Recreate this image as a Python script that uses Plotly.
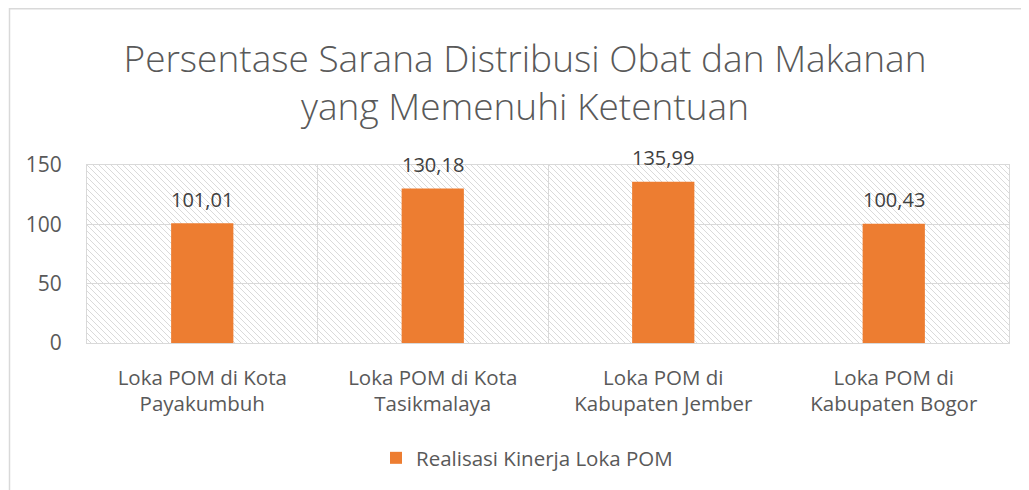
import plotly.graph_objects as go
import base64

categories = ["Loka POM di Kota<br>Payakumbuh", "Loka POM di Kota<br>Tasikmalaya",
              "Loka POM di<br>Kabupaten Jember", "Loka POM di<br>Kabupaten Bogor"]
values = [101.01, 130.18, 135.99, 100.43]
series_name = "Realisasi Kinerja Loka POM"
y_ticks = [0, 50, 100, 150]
title_text = "Persentase Sarana Distribusi Obat dan Makanan<br>yang Memenuhi Ketentuan"

# page has an 8px body margin; figure coordinates are page - 8
W, H = 1029, 490
L, T = 79, 157
R = W - 1001
B = H - 335
pw, ph = W - L - R, H - T - B

svg = f'''<svg xmlns="http://www.w3.org/2000/svg" width="{pw}" height="{ph}" viewBox="0 0 {pw} {ph}">
<defs><pattern id="p" width="6" height="6" patternUnits="userSpaceOnUse">
<path d="M-1,-1 L7,7 M-1,5 L1,7 M5,-1 L7,1" stroke="#dadada" stroke-width="1"/></pattern></defs>
<rect width="{pw}" height="{ph}" fill="white"/><rect width="{pw}" height="{ph}" fill="url(#p)"/></svg>'''
src = "data:image/svg+xml;base64," + base64.b64encode(svg.encode()).decode()

font_family = "Open Sans"
grey = "#595959"

fig = go.Figure()
fig.add_trace(go.Bar(
    x=categories, y=values, name=series_name,
    marker=dict(color="#ED7D31", line=dict(width=0)),
))

for c, v in zip(categories, values):
    fig.add_annotation(x=c, y=v, text=f"{v:.2f}".replace(".", ","), showarrow=False,
                       yanchor="middle", yshift=24,
                       font=dict(size=20, color="#404040", family=font_family))

fig.update_layout(
    width=W, height=H,
    margin=dict(l=L, r=R, t=T, b=B),
    paper_bgcolor="white", plot_bgcolor="white",
    separators=",.",
    bargap=0.73,
    showlegend=True,
    title=dict(text=title_text, x=(525 - 8) / W, xanchor="center", xref="container",
               y=1 - 64 / H, yanchor="middle", yref="container",
               font=dict(family=font_family, size=37, color=grey, weight=300)),
    legend=dict(orientation="h", x=(527 - 8 - L) / pw, xanchor="center",
                y=-(450 - (H - B)) / ph, yanchor="middle",
                font=dict(family=font_family, size=20.5, color=grey)),
    font=dict(family=font_family, color=grey),
    images=[dict(source=src, xref="paper", yref="paper", x=0, y=1, sizex=1, sizey=1,
                 sizing="stretch", xanchor="left", yanchor="top", layer="below")],
    shapes=[dict(type="rect", xref="paper", yref="paper",
                 x0=(1.5 - L) / pw, x1=1.2, y0=-1.5, y1=(H - B - 0.8) / ph,
                 line=dict(color="#d9d9d9", width=1.5), fillcolor="rgba(0,0,0,0)", layer="above")],
)
fig.update_xaxes(type="category", tickson="boundaries", showgrid=True, gridcolor="#d9d9d9",
                 gridwidth=1, showline=True, mirror=True, linecolor="#d9d9d9", linewidth=1,
                 ticks="", ticklabelstandoff=16,
                 tickfont=dict(size=20.5, color=grey, family=font_family))
fig.update_yaxes(range=[0, 150], tickvals=y_ticks, showgrid=True, gridcolor="#d9d9d9",
                 gridwidth=1, zeroline=False, showline=True, mirror=True, linecolor="#d9d9d9",
                 ticks="", ticklabelstandoff=20,
                 tickfont=dict(size=21, color=grey, family=font_family))

fig.write_html("out.html")
